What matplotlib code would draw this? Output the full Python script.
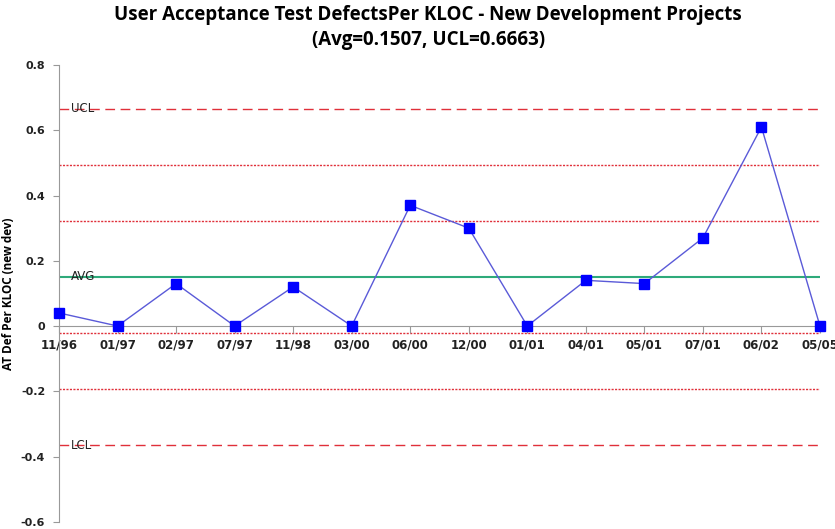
import matplotlib
matplotlib.use("Agg")
import matplotlib.pyplot as plt

# data
periods = ["11/96", "01/97", "02/97", "07/97", "11/98", "03/00", "06/00",
           "12/00", "01/01", "04/01", "05/01", "07/01", "06/02", "05/05"]
defects = [0.04, 0.0, 0.13, 0.0, 0.12, 0.0, 0.37, 0.30, 0.0, 0.14, 0.13, 0.27, 0.61, 0.0]
avg = 0.1507
ucl = 0.6663
sigma = (ucl - avg) / 3
yticks = [-0.6, -0.4, -0.2, 0, 0.2, 0.4, 0.6, 0.8]
ytick_labels = ["-0.6", "-0.4", "-0.2", "0", "0.2", "0.4", "0.6", "0.8"]

fig = plt.figure(figsize=(8.35, 5.29), dpi=100)
ax = fig.add_axes([0.0707, 0.0137, 0.9113, 0.8634])

x = list(range(len(periods)))
red = "#e0303a"

# axis frame first: moving a spine resets the tick labels
for s in ("top", "right"):
    ax.spines[s].set_visible(False)
ax.spines["bottom"].set_position(("data", 0))
ax.spines["bottom"].set_color("#999999")
ax.spines["left"].set_color("#999999")

# control limits and sigma bands
ax.axhline(ucl, color=red, lw=1.0, ls=(0, (7, 4)), zorder=1)
ax.axhline(avg - 3 * sigma, color=red, lw=1.0, ls=(0, (7, 4)), zorder=1)
for k in (2, 1, -1, -2):
    ax.axhline(avg + k * sigma, color=red, lw=1.0, ls=(0, (1.5, 1)), zorder=1)
ax.axhline(avg, color="#2eaa7a", lw=1.5, zorder=1)

ax.text(0.2, ucl, "UCL", fontsize=8.5, va="center", ha="left", color="#222222")
ax.text(0.2, avg, "AVG", fontsize=8.5, va="center", ha="left", color="#222222")
ax.text(0.2, avg - 3 * sigma, "LCL", fontsize=8.5, va="center", ha="left", color="#222222")

ax.plot(x, defects, color="#5a5ad8", lw=1.0, marker="s", markersize=6.5,
        markerfacecolor="#0000ff", markeredgecolor="#0000ff", zorder=3, clip_on=False)

ax.set_xlim(0, len(periods) - 1)
ax.set_ylim(-0.6, 0.8)
ax.set_xticks(x)
ax.set_xticklabels(periods, fontsize=8.5, fontweight="bold", color="#222222")
ax.set_yticks(yticks)
ax.set_yticklabels(ytick_labels, fontsize=8, fontweight="bold", color="#222222")
ax.tick_params(axis="x", direction="out", length=5, color="#999999", pad=4)
ax.tick_params(axis="y", direction="out", length=4, color="#999999", pad=6)

ax.set_ylabel("AT Def Per KLOC (new dev)", fontsize=8.5, fontweight="bold", family="Open Sans")
ax.yaxis.set_label_coords(-0.058, 0.5)

fig.text(0.513, 0.972, "User Acceptance Test DefectsPer KLOC - New Development Projects",
         ha="center", va="center", fontsize=13.5, fontweight="bold", family="Open Sans")
fig.text(0.513, 0.925, "(Avg=0.1507, UCL=0.6663)",
         ha="center", va="center", fontsize=13.5, fontweight="bold", family="Open Sans")

fig.savefig("out.png", dpi=100)
